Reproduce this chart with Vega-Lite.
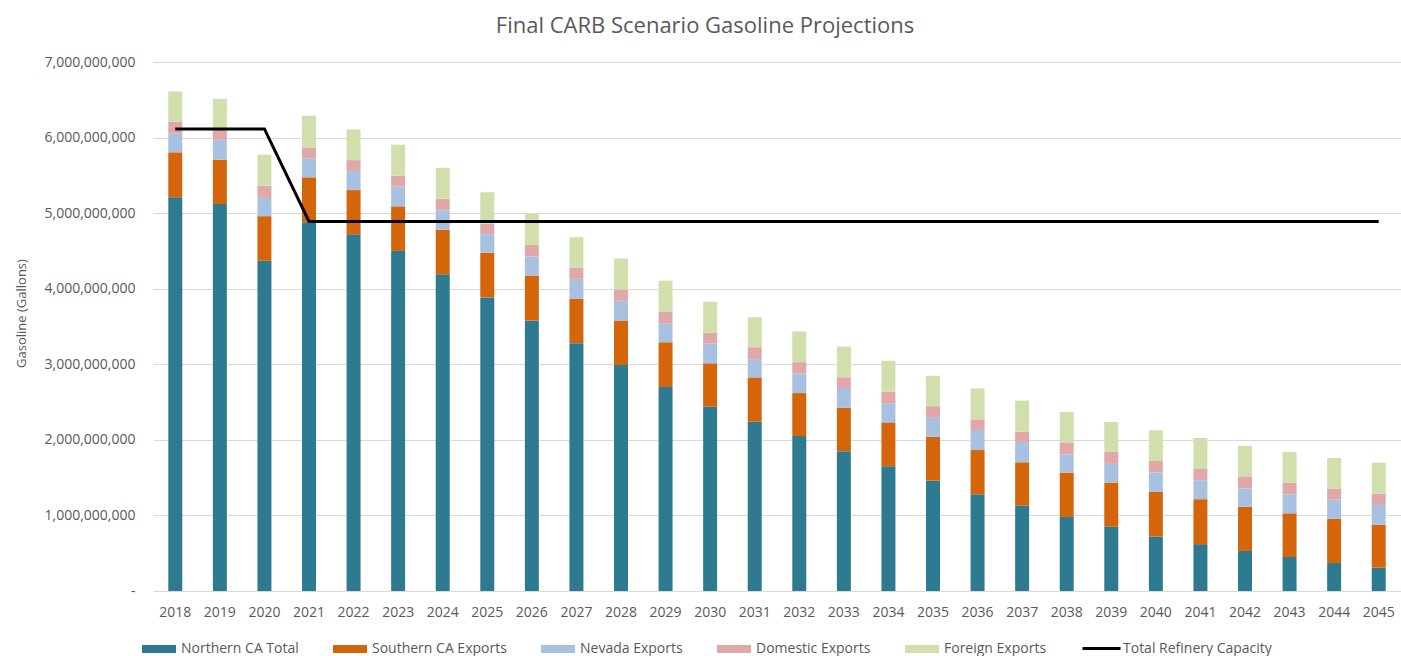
{
  "$schema": "https://vega.github.io/schema/vega-lite/v6.json",
  "width": 1248,
  "height": 529,
  "autosize": {"type": "none"},
  "padding": {"left": 153, "top": 62, "right": 0, "bottom": 65},
  "background": "white",
  "title": {
    "text": "Final CARB Scenario Gasoline Projections",
    "font": "Open Sans",
    "fontSize": 22,
    "fontWeight": "normal",
    "color": "#595959",
    "anchor": "middle",
    "frame": "group",
    "dx": -72,
    "offset": 17
  },
  "config": {
    "view": {"stroke": null},
    "font": "Open Sans"
  },
  "data": {
    "values": [
      {"year": 2018, "Northern CA Total": 5210000000, "Southern CA Exports": 595000000, "Nevada Exports": 246000000, "Domestic Exports": 159000000, "Foreign Exports": 400000000, "Total Refinery Capacity": 6115000000},
      {"year": 2019, "Northern CA Total": 5120000000, "Southern CA Exports": 586000000, "Nevada Exports": 264000000, "Domestic Exports": 140000000, "Foreign Exports": 402000000, "Total Refinery Capacity": 6115000000},
      {"year": 2020, "Northern CA Total": 4370000000, "Southern CA Exports": 590000000, "Nevada Exports": 242000000, "Domestic Exports": 163000000, "Foreign Exports": 410000000, "Total Refinery Capacity": 6115000000},
      {"year": 2021, "Northern CA Total": 4880000000, "Southern CA Exports": 594000000, "Nevada Exports": 247000000, "Domestic Exports": 141000000, "Foreign Exports": 427000000, "Total Refinery Capacity": 4890000000},
      {"year": 2022, "Northern CA Total": 4720000000, "Southern CA Exports": 585000000, "Nevada Exports": 252000000, "Domestic Exports": 145000000, "Foreign Exports": 405000000, "Total Refinery Capacity": 4890000000},
      {"year": 2023, "Northern CA Total": 4500000000, "Southern CA Exports": 590000000, "Nevada Exports": 264000000, "Domestic Exports": 141000000, "Foreign Exports": 410000000, "Total Refinery Capacity": 4890000000},
      {"year": 2024, "Northern CA Total": 4190000000, "Southern CA Exports": 591000000, "Nevada Exports": 255000000, "Domestic Exports": 154000000, "Foreign Exports": 410000000, "Total Refinery Capacity": 4890000000},
      {"year": 2025, "Northern CA Total": 3885000000, "Southern CA Exports": 591000000, "Nevada Exports": 246000000, "Domestic Exports": 137000000, "Foreign Exports": 418000000, "Total Refinery Capacity": 4890000000},
      {"year": 2026, "Northern CA Total": 3580000000, "Southern CA Exports": 595000000, "Nevada Exports": 251000000, "Domestic Exports": 154000000, "Foreign Exports": 414000000, "Total Refinery Capacity": 4890000000},
      {"year": 2027, "Northern CA Total": 3280000000, "Southern CA Exports": 586000000, "Nevada Exports": 265000000, "Domestic Exports": 145000000, "Foreign Exports": 405000000, "Total Refinery Capacity": 4890000000},
      {"year": 2028, "Northern CA Total": 2990000000, "Southern CA Exports": 590000000, "Nevada Exports": 260000000, "Domestic Exports": 150000000, "Foreign Exports": 410000000, "Total Refinery Capacity": 4890000000},
      {"year": 2029, "Northern CA Total": 2700000000, "Southern CA Exports": 591000000, "Nevada Exports": 251000000, "Domestic Exports": 158000000, "Foreign Exports": 406000000, "Total Refinery Capacity": 4890000000},
      {"year": 2030, "Northern CA Total": 2440000000, "Southern CA Exports": 573000000, "Nevada Exports": 264000000, "Domestic Exports": 141000000, "Foreign Exports": 409000000, "Total Refinery Capacity": 4890000000},
      {"year": 2031, "Northern CA Total": 2240000000, "Southern CA Exports": 586000000, "Nevada Exports": 242000000, "Domestic Exports": 158000000, "Foreign Exports": 397000000, "Total Refinery Capacity": 4890000000},
      {"year": 2032, "Northern CA Total": 2050000000, "Southern CA Exports": 569000000, "Nevada Exports": 260000000, "Domestic Exports": 149000000, "Foreign Exports": 406000000, "Total Refinery Capacity": 4890000000},
      {"year": 2033, "Northern CA Total": 1850000000, "Southern CA Exports": 577000000, "Nevada Exports": 260000000, "Domestic Exports": 141000000, "Foreign Exports": 405000000, "Total Refinery Capacity": 4890000000},
      {"year": 2034, "Northern CA Total": 1650000000, "Southern CA Exports": 581000000, "Nevada Exports": 247000000, "Domestic Exports": 159000000, "Foreign Exports": 410000000, "Total Refinery Capacity": 4890000000},
      {"year": 2035, "Northern CA Total": 1460000000, "Southern CA Exports": 581000000, "Nevada Exports": 251000000, "Domestic Exports": 154000000, "Foreign Exports": 402000000, "Total Refinery Capacity": 4890000000},
      {"year": 2036, "Northern CA Total": 1280000000, "Southern CA Exports": 585000000, "Nevada Exports": 265000000, "Domestic Exports": 141000000, "Foreign Exports": 410000000, "Total Refinery Capacity": 4890000000},
      {"year": 2037, "Northern CA Total": 1130000000, "Southern CA Exports": 573000000, "Nevada Exports": 269000000, "Domestic Exports": 136000000, "Foreign Exports": 410000000, "Total Refinery Capacity": 4890000000},
      {"year": 2038, "Northern CA Total": 980000000, "Southern CA Exports": 586000000, "Nevada Exports": 242000000, "Domestic Exports": 159000000, "Foreign Exports": 401000000, "Total Refinery Capacity": 4890000000},
      {"year": 2039, "Northern CA Total": 850000000, "Southern CA Exports": 585000000, "Nevada Exports": 247000000, "Domestic Exports": 159000000, "Foreign Exports": 396000000, "Total Refinery Capacity": 4890000000},
      {"year": 2040, "Northern CA Total": 720000000, "Southern CA Exports": 595000000, "Nevada Exports": 255000000, "Domestic Exports": 150000000, "Foreign Exports": 406000000, "Total Refinery Capacity": 4890000000},
      {"year": 2041, "Northern CA Total": 620000000, "Southern CA Exports": 595000000, "Nevada Exports": 251000000, "Domestic Exports": 149000000, "Foreign Exports": 410000000, "Total Refinery Capacity": 4890000000},
      {"year": 2042, "Northern CA Total": 530000000, "Southern CA Exports": 585000000, "Nevada Exports": 243000000, "Domestic Exports": 159000000, "Foreign Exports": 404000000, "Total Refinery Capacity": 4890000000},
      {"year": 2043, "Northern CA Total": 450000000, "Southern CA Exports": 578000000, "Nevada Exports": 251000000, "Domestic Exports": 153000000, "Foreign Exports": 406000000, "Total Refinery Capacity": 4890000000},
      {"year": 2044, "Northern CA Total": 370000000, "Southern CA Exports": 585000000, "Nevada Exports": 257000000, "Domestic Exports": 140000000, "Foreign Exports": 406000000, "Total Refinery Capacity": 4890000000},
      {"year": 2045, "Northern CA Total": 310000000, "Southern CA Exports": 568000000, "Nevada Exports": 260000000, "Domestic Exports": 150000000, "Foreign Exports": 410000000, "Total Refinery Capacity": 4890000000}
    ]
  },
  "encoding": {
    "x": {
      "field": "year",
      "type": "ordinal",
      "scale": {"paddingInner": 0.686, "paddingOuter": 0.343},
      "axis": {
        "title": null,
        "labelAngle": 0,
        "labelFont": "Open Sans",
        "labelFontSize": 14,
        "labelColor": "#595959",
        "ticks": false,
        "tickSize": 0,
        "labelPadding": 14,
        "domainColor": "#D9D9D9",
        "grid": false
      }
    }
  },
  "layer": [
    {
      "transform": [
        {"fold": ["Northern CA Total", "Southern CA Exports", "Nevada Exports", "Domestic Exports", "Foreign Exports"], "as": ["series", "value"]},
        {"calculate": "indexof(['Northern CA Total','Southern CA Exports','Nevada Exports','Domestic Exports','Foreign Exports'], datum.series)", "as": "ord"}
      ],
      "mark": {"type": "bar"},
      "encoding": {
        "y": {
          "field": "value",
          "type": "quantitative",
          "stack": "zero",
          "scale": {"domain": [0, 7000000000], "nice": false},
          "axis": {
            "title": "Gasoline (Gallons)",
            "values": [0, 1000000000, 2000000000, 3000000000, 4000000000, 5000000000, 6000000000, 7000000000],
            "labelExpr": "datum.value == 0 ? '-\u00a0\u00a0' : format(datum.value, ',')",
            "labelFont": "Open Sans",
            "labelFontSize": 14,
            "labelColor": "#595959",
            "labelPadding": 18,
            "ticks": false,
            "tickSize": 0,
            "domain": false,
            "grid": true,
            "gridColor": "#D9D9D9",
            "gridWidth": 1,
            "titleFont": "Open Sans",
            "titleFontSize": 13,
            "titleFontWeight": "normal",
            "titleColor": "#595959",
            "titleAngle": -90,
            "titleX": -132,
            "titleY": 251,
            "titleAlign": "center",
            "titleBaseline": "middle"
          }
        },
        "color": {
          "field": "series",
          "type": "nominal",
          "scale": {
            "domain": ["Northern CA Total", "Southern CA Exports", "Nevada Exports", "Domestic Exports", "Foreign Exports"],
            "range": ["#2E7B91", "#D4650A", "#A9C1E0", "#E0A8A8", "#D0DFAB"]
          },
          "legend": {
            "orient": "none",
            "legendX": -11,
            "legendY": 570,
            "direction": "horizontal",
            "title": null,
            "symbolType": "M-1,-0.235L1,-0.235L1,0.235L-1,0.235Z",
            "symbolSize": 1156,
            "symbolStrokeWidth": 0,
            "symbolOpacity": 1,
            "labelFont": "Open Sans",
            "labelFontSize": 14,
            "labelColor": "#595959",
            "labelOffset": 5,
            "columnPadding": 34,
            "padding": 0
          }
        },
        "order": {"field": "ord", "type": "quantitative", "sort": "ascending"}
      }
    },
    {
      "transform": [
        {"fold": ["Total Refinery Capacity"], "as": ["series", "capacity"]}
      ],
      "mark": {"type": "line", "strokeWidth": 3, "strokeJoin": "miter"},
      "encoding": {
        "y": {"field": "capacity", "type": "quantitative"},
        "stroke": {
          "field": "series",
          "type": "nominal",
          "scale": {"domain": ["Total Refinery Capacity"], "range": ["#000000"]},
          "legend": {
            "orient": "none",
            "legendX": 928,
            "legendY": 566,
            "title": null,
            "symbolType": "stroke",
            "symbolSize": 1444,
            "symbolStrokeWidth": 3,
            "labelFont": "Open Sans",
            "labelFontSize": 14,
            "labelColor": "#595959",
            "labelOffset": 1,
            "padding": 0
          }
        }
      }
    }
  ]
}
